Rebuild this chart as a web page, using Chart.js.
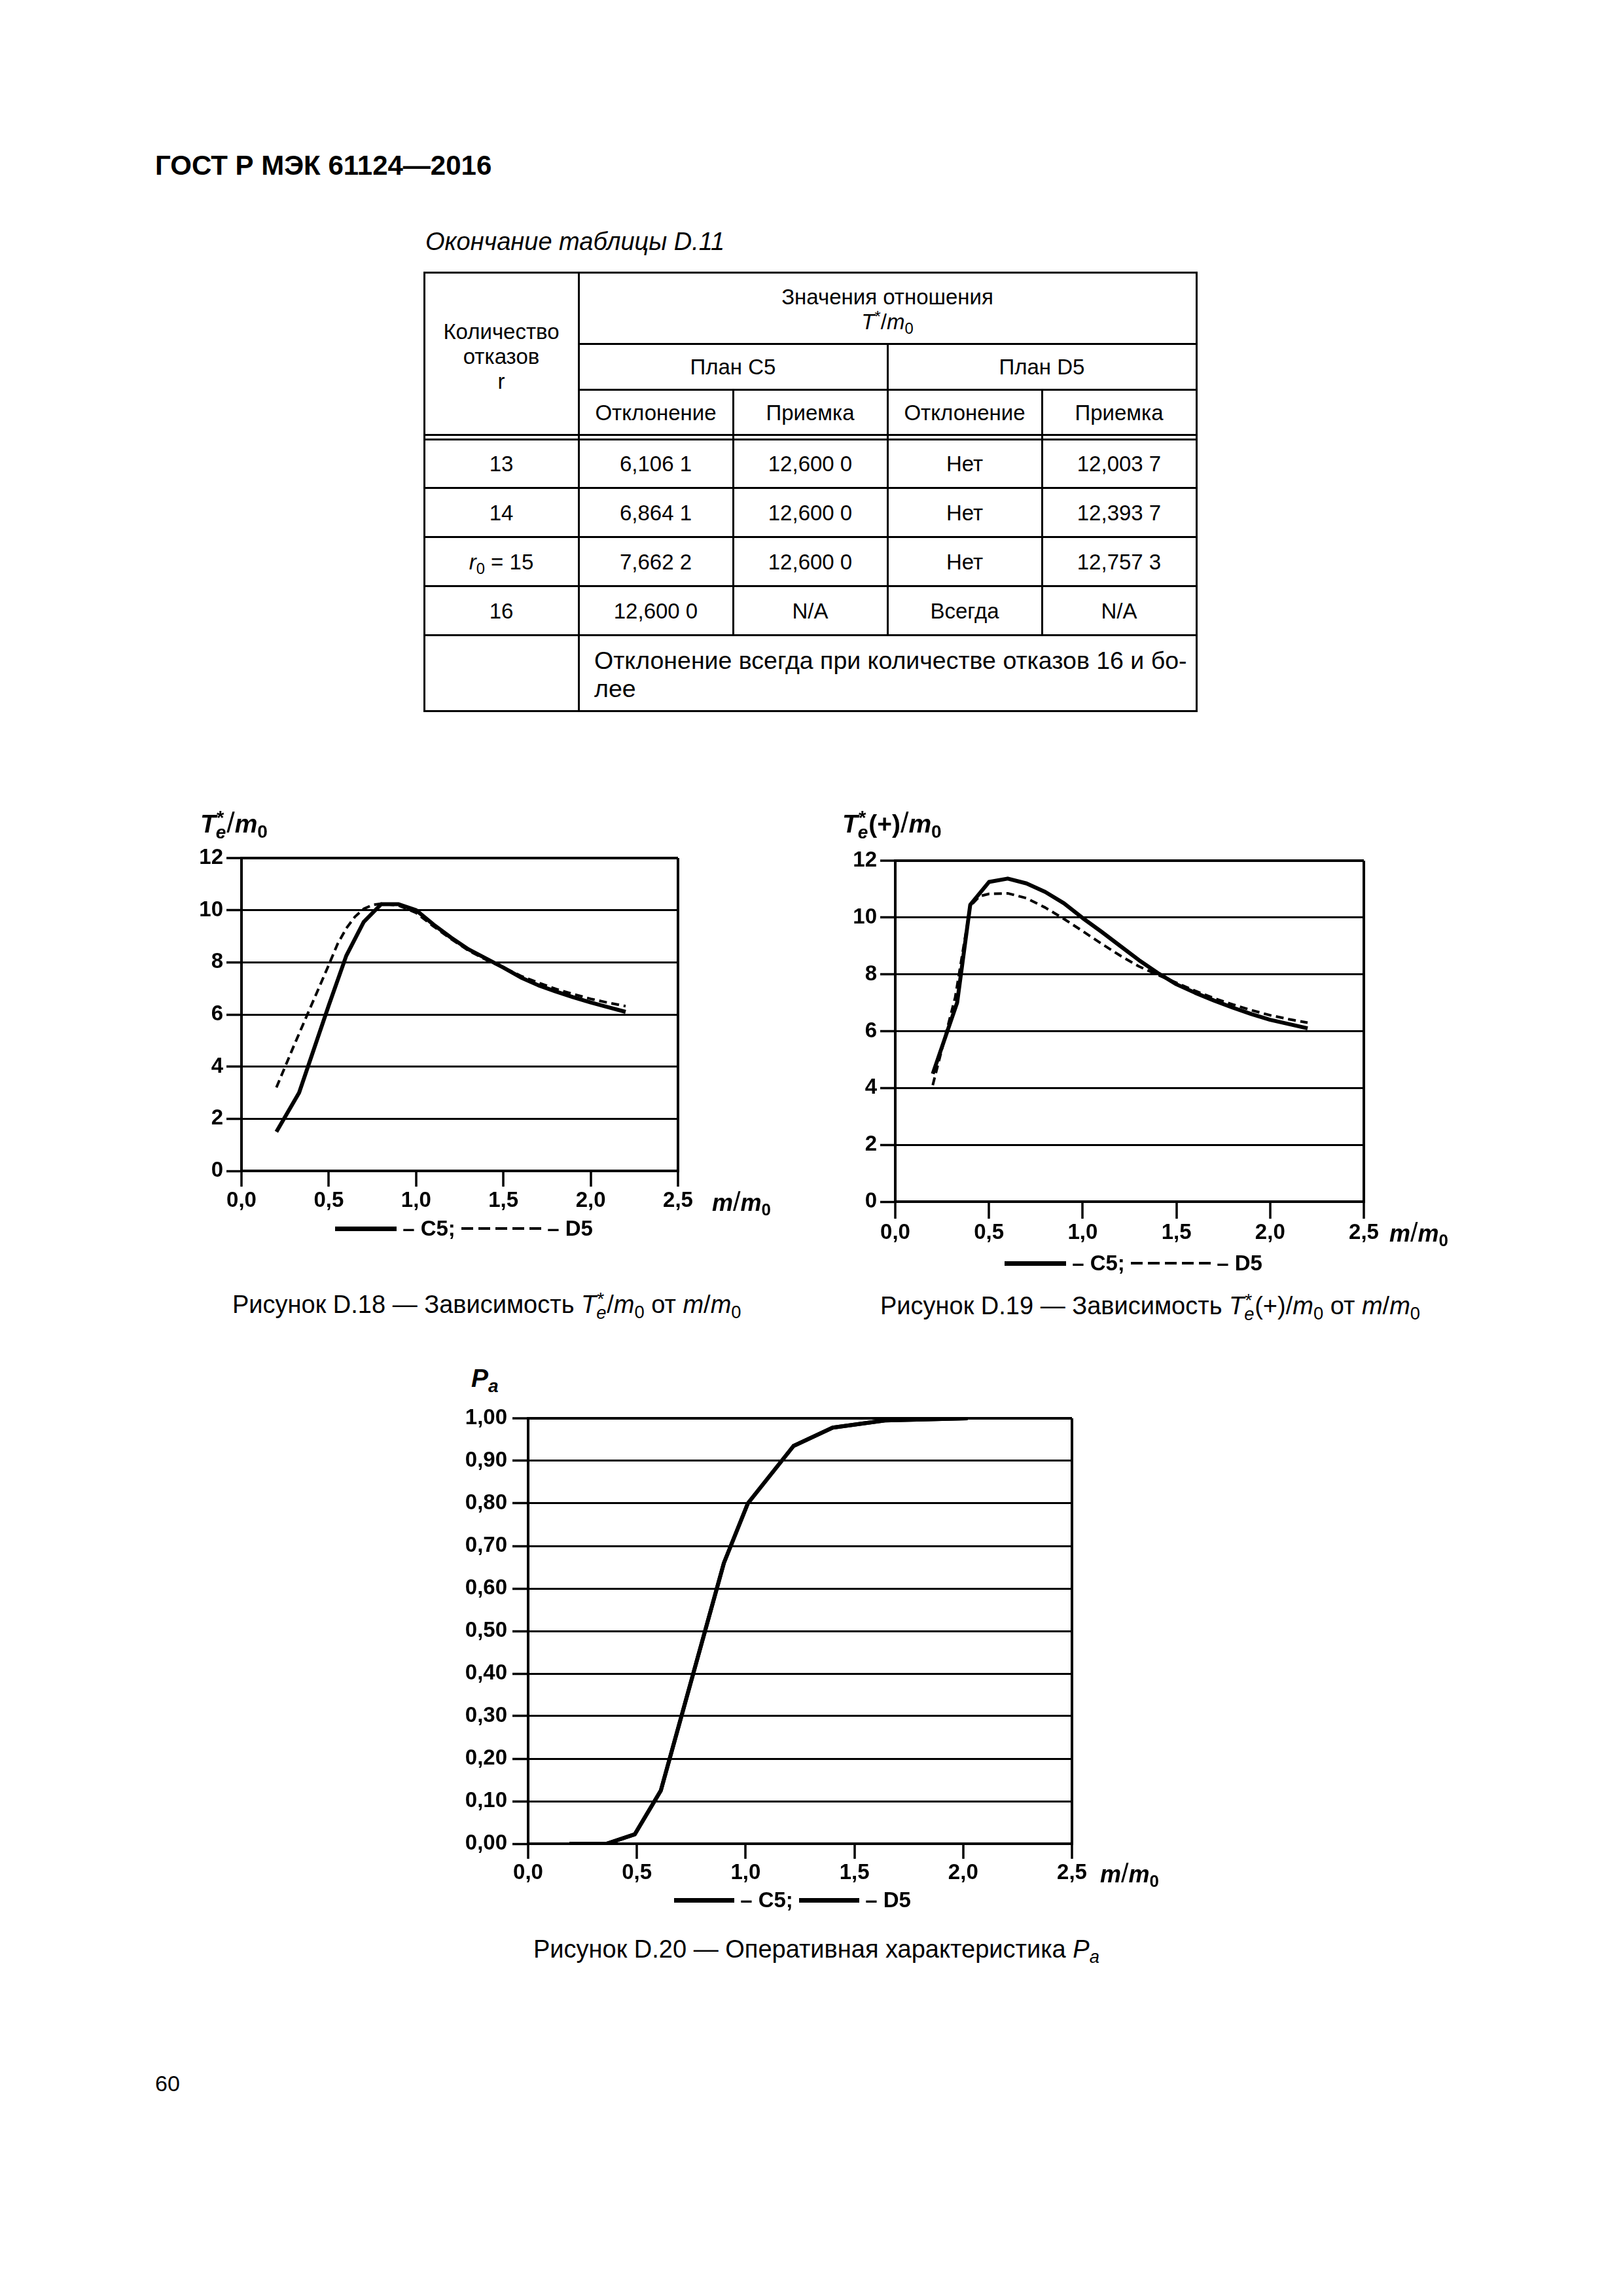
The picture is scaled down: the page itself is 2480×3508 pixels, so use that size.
<!DOCTYPE html>
<html>
<head>
<meta charset="utf-8">
<script src="https://cdn.jsdelivr.net/npm/chart.js@4.4.1/dist/chart.umd.min.js"></script>
<style>
html,body{margin:0;padding:0;background:#fff;}
body{width:2480px;height:3508px;position:relative;overflow:hidden;font-family:"Liberation Sans",Arial,sans-serif;color:#000;}
.t{position:absolute;white-space:nowrap;line-height:1;}
canvas{position:absolute;}
.ln{position:absolute;background:#000;}
.cell{position:absolute;font-size:33px;line-height:1;white-space:nowrap;transform:translate(-50%,0);}
.cellL{position:absolute;font-size:37.5px;line-height:1;white-space:nowrap;}
.st{display:inline-block;position:relative;width:0.42em;height:0.72em;}
.st .sp{position:absolute;left:0.04em;top:-0.30em;font-size:0.75em;font-style:normal;}
.st .sb{position:absolute;left:0;top:0.50em;font-size:0.72em;font-style:italic;}
sub{font-size:0.72em;vertical-align:-0.28em;line-height:0;}
sup{font-size:0.72em;vertical-align:0.45em;line-height:0;}
.yt{font-size:39px;font-weight:bold;}
.xt{font-size:36px;font-weight:bold;}
.sl{font-weight:normal;font-size:1.15em;}
.leg{position:absolute;display:flex;align-items:center;height:40px;font-size:33px;font-weight:bold;white-space:nowrap;}
.ls{display:inline-block;height:7px;background:#000;}
.ld{display:inline-block;height:4px;background:repeating-linear-gradient(to right,#000 0 18px,rgba(0,0,0,0) 18px 26px);}
.cap{font-size:38px;}
</style>
</head>
<body>
<div class="t" style="left:237px;top:232px;font-size:42px;font-weight:bold;">ГОСТ Р МЭК 61124—2016</div>
<div class="t" style="left:650px;top:350px;font-size:38px;font-style:italic;">Окончание таблицы D.11</div>
<div id="tbl"></div>

<canvas id="c18"></canvas>
<canvas id="c19"></canvas>
<canvas id="c20"></canvas>

<!-- D.18 texts -->
<div class="t yt" style="left:306px;top:1235px;"><i>T</i><span class="st"><span class="sp">*</span><span class="sb">e</span></span><span class="sl">/</span><i>m</i><sub>0</sub></div>
<div class="t xt" style="left:1088px;top:1816px;"><i>m</i><span class="sl">/</span><i>m</i><sub>0</sub></div>
<div class="leg" style="left:512px;top:1857px;"><span class="ls" style="width:94px"></span><span>&nbsp;– C5;&nbsp;</span><span class="ld" style="width:122px"></span><span>&nbsp;– D5</span></div>
<div class="t cap" style="left:355px;top:1974px;">Рисунок D.18 — Зависимость <i>T</i><span class="st"><span class="sp">*</span><span class="sb">e</span></span>/<i>m</i><sub>0</sub> от <i>m</i>/<i>m</i><sub>0</sub></div>

<!-- D.19 texts -->
<div class="t yt" style="left:1287px;top:1235px;"><i>T</i><span class="st"><span class="sp">*</span><span class="sb">e</span></span>(+)<span class="sl">/</span><i>m</i><sub>0</sub></div>
<div class="t xt" style="left:2123px;top:1863px;"><i>m</i><span class="sl">/</span><i>m</i><sub>0</sub></div>
<div class="leg" style="left:1535px;top:1910px;"><span class="ls" style="width:94px"></span><span>&nbsp;– C5;&nbsp;</span><span class="ld" style="width:122px"></span><span>&nbsp;– D5</span></div>
<div class="t cap" style="left:1345px;top:1976px;">Рисунок D.19 — Зависимость <i>T</i><span class="st"><span class="sp">*</span><span class="sb">e</span></span>(+)/<i>m</i><sub>0</sub> от <i>m</i>/<i>m</i><sub>0</sub></div>

<!-- D.20 texts -->
<div class="t yt" style="left:720px;top:2086px;"><i>P</i><sub><i>a</i></sub></div>
<div class="t xt" style="left:1681px;top:2842px;"><i>m</i><span class="sl">/</span><i>m</i><sub>0</sub></div>
<div class="leg" style="left:1030px;top:2883px;"><span class="ls" style="width:92px"></span><span>&nbsp;– C5;&nbsp;</span><span class="ls" style="width:92px"></span><span>&nbsp;– D5</span></div>
<div class="t cap" style="left:815px;top:2959px;">Рисунок D.20 — Оперативная характеристика <i>P</i><sub><i>a</i></sub></div>

<div class="t" style="left:237px;top:3166px;font-size:34px;">60</div>

<script>
// ---------- DATA ----------
const xTicks = [0, 0.5, 1.0, 1.5, 2.0, 2.5];
const xTickLabels = ['0,0', '0,5', '1,0', '1,5', '2,0', '2,5'];

const yTicksT = [0, 2, 4, 6, 8, 10, 12];
const yTickLabelsT = ['0', '2', '4', '6', '8', '10', '12'];

const yTicksPa = [0, 0.1, 0.2, 0.3, 0.4, 0.5, 0.6, 0.7, 0.8, 0.9, 1.0];
const yTickLabelsPa = ['0,00', '0,10', '0,20', '0,30', '0,40', '0,50', '0,60', '0,70', '0,80', '0,90', '1,00'];

// Figure D.18: Te*/m0 vs m/m0
const c5X18 = [0.2, 0.33, 0.5, 0.6, 0.7, 0.8, 0.9, 1.0, 1.1, 1.2, 1.3, 1.4, 1.5, 1.6, 1.7, 1.8, 1.9, 2.0, 2.1, 2.2];
const c5Y18 = [1.5, 3.0, 6.35, 8.25, 9.55, 10.23, 10.23, 10.0, 9.45, 8.95, 8.5, 8.15, 7.8, 7.42, 7.12, 6.88, 6.66, 6.46, 6.28, 6.1];
const d5X18 = [0.2, 0.3, 0.4, 0.5, 0.55, 0.6, 0.65, 0.7, 0.75, 0.8, 0.9, 1.0, 1.1, 1.2, 1.3, 1.4, 1.5, 1.6, 1.7, 1.8, 1.9, 2.0, 2.1, 2.2];
const d5Y18 = [3.2, 4.8, 6.35, 7.9, 8.7, 9.3, 9.75, 10.05, 10.2, 10.25, 10.18, 9.9, 9.38, 8.9, 8.45, 8.1, 7.8, 7.48, 7.22, 6.98, 6.78, 6.6, 6.45, 6.32];

// Figure D.19: Te*(+)/m0 vs m/m0
const c5X19 = [0.2, 0.33, 0.4, 0.5, 0.6, 0.7, 0.8, 0.9, 1.0, 1.1, 1.2, 1.3, 1.4, 1.5, 1.6, 1.7, 1.8, 1.9, 2.0, 2.1, 2.2];
const c5Y19 = [4.5, 7.0, 10.45, 11.25, 11.37, 11.2, 10.9, 10.5, 9.98, 9.5, 9.0, 8.5, 8.05, 7.65, 7.35, 7.08, 6.83, 6.6, 6.4, 6.25, 6.1];
const d5X19 = [0.2, 0.32, 0.4, 0.45, 0.5, 0.6, 0.7, 0.8, 0.9, 1.0, 1.1, 1.2, 1.3, 1.4, 1.5, 1.6, 1.7, 1.8, 1.9, 2.0, 2.1, 2.2];
const d5Y19 = [4.1, 7.2, 10.4, 10.75, 10.83, 10.85, 10.68, 10.35, 9.95, 9.52, 9.08, 8.66, 8.28, 7.98, 7.7, 7.42, 7.16, 6.94, 6.74, 6.56, 6.42, 6.3];

// Figure D.20: Pa vs m/m0
const paX20 = [0.19, 0.36, 0.49, 0.61, 0.90, 1.01, 1.22, 1.40, 1.64, 2.02];
const paC520 = [0.00, 0.00, 0.022, 0.125, 0.66, 0.80, 0.935, 0.978, 0.995, 1.00];
const paD520 = [0.00, 0.00, 0.022, 0.125, 0.66, 0.80, 0.935, 0.978, 0.995, 1.00];

// Table D.11 (end)
const tblRows = [
  ['13', '6,106 1', '12,600 0', 'Нет', '12,003 7'],
  ['14', '6,864 1', '12,600 0', 'Нет', '12,393 7'],
  ['<i>r</i><sub>0</sub> = 15', '7,662 2', '12,600 0', 'Нет', '12,757 3'],
  ['16', '12,600 0', 'N/A', 'Всегда', 'N/A']
];
const tblNote = ['Отклонение всегда при количестве отказов 16 и бо-', 'лее'];

// ---------- TABLE ----------
(function () {
  const host = document.getElementById('tbl');
  const X = [648, 884, 1120, 1356, 1592, 1828];
  const Y = [416, 525, 595, 664, 671, 745, 820, 895, 970, 1086];
  const lw = 3;
  function h(x1, x2, y) { const d = document.createElement('div'); d.className = 'ln'; d.style.left = (x1 - 1) + 'px'; d.style.top = (y - 1) + 'px'; d.style.width = (x2 - x1 + lw) + 'px'; d.style.height = lw + 'px'; host.appendChild(d); }
  function v(x, y1, y2) { const d = document.createElement('div'); d.className = 'ln'; d.style.left = (x - 1) + 'px'; d.style.top = (y1 - 1) + 'px'; d.style.width = lw + 'px'; d.style.height = (y2 - y1 + lw) + 'px'; host.appendChild(d); }
  function c(html, cx, cy) { const d = document.createElement('div'); d.className = 'cell'; d.innerHTML = html; d.style.left = cx + 'px'; d.style.top = (cy - 16) + 'px'; host.appendChild(d); }
  function cl(html, x, cy) { const d = document.createElement('div'); d.className = 'cellL'; d.innerHTML = html; d.style.left = x + 'px'; d.style.top = (cy - 18) + 'px'; host.appendChild(d); }
  h(X[0], X[5], Y[0]);
  h(X[1], X[5], Y[1]);
  h(X[1], X[5], Y[2]);
  h(X[0], X[5], Y[3]);
  h(X[0], X[5], Y[4]);
  for (let i = 5; i <= 9; i++) h(X[0], X[5], Y[i]);
  v(X[0], Y[0], Y[9]); v(X[5], Y[0], Y[9]); v(X[1], Y[0], Y[9]);
  v(X[3], Y[1], Y[8]);
  v(X[2], Y[2], Y[8]); v(X[4], Y[2], Y[8]);
  const m0 = (X[0] + X[1]) / 2;
  c('Количество', m0, 506); c('отказов', m0, 544); c('r', m0, 582);
  c('Значения отношения', (X[1] + X[5]) / 2, 453);
  c('<i>T</i><sup>*</sup>/<i>m</i><sub>0</sub>', (X[1] + X[5]) / 2, 491);
  c('План C5', (X[1] + X[3]) / 2, 560); c('План D5', (X[3] + X[5]) / 2, 560);
  ['Отклонение', 'Приемка', 'Отклонение', 'Приемка'].forEach((s, i) => c(s, (X[i + 1] + X[i + 2]) / 2, 630));
  tblRows.forEach((row, r) => {
    const cy = (Y[4 + r] + Y[5 + r]) / 2;
    row.forEach((s, i) => c(s, (X[i] + X[i + 1]) / 2, cy));
  });
  cl(tblNote[0], X[1] + 24, 1009);
  cl(tblNote[1], X[1] + 24, 1052);
})();

// ---------- CHARTS ----------
const FONT = '"Liberation Sans", Arial, sans-serif';

function makeChart(id, area, pad, sets, yT, yL, yTick, xTick) {
  const cv = document.getElementById(id);
  const W = pad.l + (area.r - area.l) + pad.r;
  const H = pad.t + (area.b - area.t) + pad.b;
  cv.width = W; cv.height = H;
  cv.style.left = (area.l - pad.l) + 'px';
  cv.style.top = (area.t - pad.t) + 'px';
  cv.style.width = W + 'px';
  cv.style.height = H + 'px';
  const yTop = yT[yT.length - 1];
  return new Chart(cv, {
    type: 'line',
    data: {
      datasets: sets.map(s => ({
        label: s.label,
        data: s.x.map((x, i) => ({ x: x, y: s.y[i] })),
        borderColor: '#000',
        borderWidth: s.w,
        borderDash: s.dash || [],
        pointRadius: 0,
        tension: 0,
        fill: false,
        borderJoinStyle: 'round',
        borderCapStyle: 'butt'
      }))
    },
    options: {
      responsive: false,
      animation: false,
      devicePixelRatio: 1,
      layout: { padding: { left: 0, top: pad.t, right: pad.r, bottom: 0 } },
      plugins: { legend: { display: false }, tooltip: { enabled: false }, title: { display: false } },
      scales: {
        x: {
          type: 'linear', min: xTicks[0], max: xTicks[xTicks.length - 1],
          afterBuildTicks: s => { s.ticks = xTicks.map(v => ({ value: v })); },
          afterFit: s => { s.height = pad.b; },
          ticks: {
            callback: (v, i) => xTickLabels[i],
            font: { family: FONT, size: 33, weight: 'bold' }, color: '#000',
            padding: 2, maxRotation: 0, minRotation: 0, autoSkip: false
          },
          grid: {
            color: c => (c.tick && c.tick.value === xTicks[xTicks.length - 1]) ? '#000' : 'rgba(0,0,0,0)',
            tickColor: '#000', tickLength: xTick, lineWidth: 4, tickWidth: 3.5,
            drawOnChartArea: true, drawTicks: true
          },
          border: { display: true, color: '#000', width: 4 }
        },
        y: {
          type: 'linear', min: yT[0], max: yTop,
          afterBuildTicks: s => { s.ticks = yT.map(v => ({ value: v })); },
          afterFit: s => { s.width = pad.l; },
          ticks: {
            callback: (v, i) => yL[i],
            font: { family: FONT, size: 33, weight: 'bold' }, color: '#000',
            padding: yTick.pad, autoSkip: false
          },
          grid: {
            color: '#000', tickColor: '#000',
            lineWidth: c => (c.tick && c.tick.value === yTop) ? 4 : 3,
            tickLength: yTick.len, tickWidth: 3.5
          },
          border: { display: true, color: '#000', width: 4 }
        }
      }
    }
  });
}

makeChart('c18', { l: 369, t: 1311, r: 1036, b: 1789 }, { l: 130, t: 30, r: 60, b: 90 }, [
  { label: 'D5', x: d5X18, y: d5Y18, w: 4, dash: [12, 7] },
  { label: 'C5', x: c5X18, y: c5Y18, w: 6 }
], yTicksT, yTickLabelsT, { len: 23, pad: 5 }, 24);

makeChart('c19', { l: 1368, t: 1315, r: 2084, b: 1836 }, { l: 130, t: 30, r: 60, b: 90 }, [
  { label: 'D5', x: d5X19, y: d5Y19, w: 4, dash: [12, 7] },
  { label: 'C5', x: c5X19, y: c5Y19, w: 6 }
], yTicksT, yTickLabelsT, { len: 23, pad: 5 }, 26);

makeChart('c20', { l: 807, t: 2167, r: 1638, b: 2817 }, { l: 150, t: 30, r: 60, b: 90 }, [
  { label: 'D5', x: paX20, y: paD520, w: 6 },
  { label: 'C5', x: paX20, y: paC520, w: 6 }
], yTicksPa, yTickLabelsPa, { len: 24, pad: 8 }, 23);
</script>
</body>
</html>
